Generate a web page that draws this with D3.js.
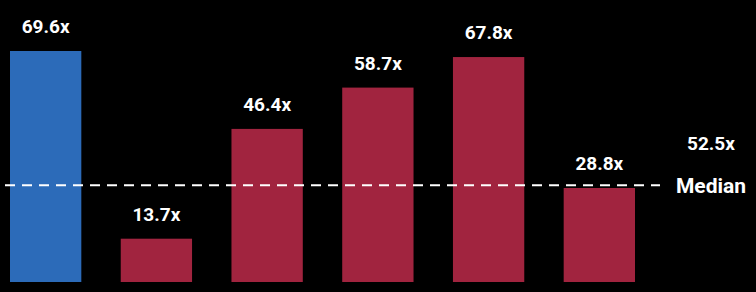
<!doctype html>
<style>
body { margin: 0; background: #000; }
#chart { font-family: Roboto, "Liberation Sans", sans-serif; }
.val { fill: #fff; font-weight: bold; font-size: 19px; text-anchor: middle; }
.median-label { fill: #fff; font-weight: bold; text-anchor: middle; }
</style>
<div id="chart"></div>
<script src="https://cdn.jsdelivr.net/npm/d3@7"></script>
<script>
// chart data
var categories = ['A', 'B', 'C', 'D', 'E', 'F'];
var values = [69.6, 13.7, 46.4, 58.7, 67.8, 28.8];
var colors = ['#2c6bb9', '#a1243f', '#a1243f', '#a1243f', '#a1243f', '#a1243f'];
var medianValue = 52.5;
// the reference draws its dashed median line at this level
var medianLineLevel = 29.6;

var width = 756;
var height = 292;
var baseline = 282; // bars are cut off at the bottom edge

var svg = d3.select('#chart').append('svg')
    .style('display', 'block')
    .attr('width', width)
    .attr('height', height);

svg.append('rect')
    .attr('width', width)
    .attr('height', height)
    .attr('fill', '#000');

var x = d3.scaleBand()
    .domain(categories)
    .range([10, 635])
    .paddingInner(0.356)
    .paddingOuter(0);

var y = d3.scaleLinear()
    .domain([0, d3.max(values)])
    .range([284.7, 51]);

var rows = categories.map(function (c, i) {
    return { cat: c, value: values[i], color: colors[i] };
});

svg.selectAll('rect.bar').data(rows)
    .enter().append('rect')
    .attr('class', 'bar')
    .attr('x', function (d) { return x(d.cat); })
    .attr('y', function (d) { return y(d.value); })
    .attr('width', x.bandwidth())
    .attr('height', function (d) { return baseline - y(d.value); })
    .attr('fill', function (d) { return d.color; });

svg.selectAll('text.val').data(rows)
    .enter().append('text')
    .attr('class', 'val')
    .attr('x', function (d) { return x(d.cat) + x.bandwidth() / 2; })
    .attr('y', function (d) { return y(d.value) - 18; })
    .text(function (d) { return d.value.toFixed(1) + 'x'; });

// median line + label
svg.append('line')
    .attr('x1', 5)
    .attr('x2', 660)
    .attr('y1', y(medianLineLevel))
    .attr('y2', y(medianLineLevel))
    .attr('stroke', '#fff')
    .attr('stroke-width', 2)
    .attr('stroke-dasharray', '10,7');

svg.append('text')
    .attr('class', 'median-label')
    .attr('x', 711)
    .attr('y', 150)
    .style('font-size', '19px')
    .text(medianValue.toFixed(1) + 'x');

svg.append('text')
    .attr('class', 'median-label')
    .attr('x', 711)
    .attr('y', y(medianLineLevel) + 8)
    .style('font-size', '21px')
    .text('Median');
</script>
